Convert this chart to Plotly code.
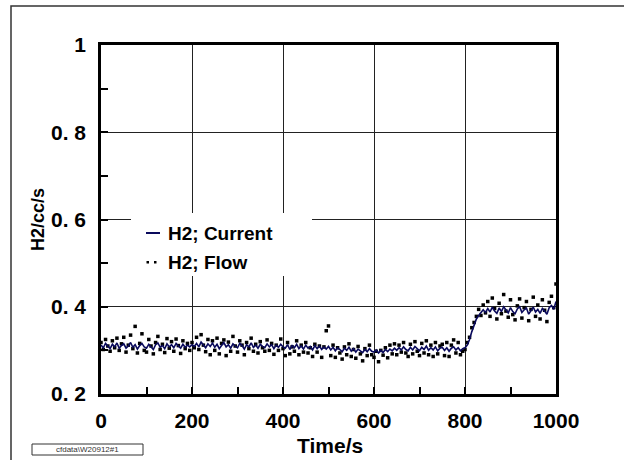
import plotly.graph_objects as go

# ---- data ----
time_s = list(range(0, 1001, 5))

h2_current = [
    0.312, 0.306, 0.316, 0.309, 0.304, 0.314, 0.308, 0.317, 0.305, 0.311,
    0.315, 0.305, 0.310, 0.318, 0.307, 0.313, 0.303, 0.311, 0.316, 0.308,
    0.305, 0.314, 0.309, 0.302, 0.313, 0.317, 0.307, 0.311, 0.304, 0.315,
    0.308, 0.313, 0.306, 0.316, 0.310, 0.305, 0.314, 0.307, 0.312, 0.308,
    0.313, 0.309, 0.316, 0.308, 0.319, 0.311, 0.306, 0.315, 0.309, 0.317,
    0.307, 0.314, 0.304, 0.311, 0.318, 0.308, 0.313, 0.305, 0.315, 0.310,
    0.306, 0.316, 0.311, 0.303, 0.313, 0.308, 0.317, 0.307, 0.312, 0.305,
    0.314, 0.309, 0.306, 0.315, 0.308, 0.313, 0.304, 0.312, 0.307, 0.314,
    0.308, 0.305, 0.313, 0.302, 0.311, 0.306, 0.314, 0.304, 0.310, 0.303,
    0.312, 0.305, 0.309, 0.301, 0.311, 0.304, 0.310, 0.302, 0.308, 0.303,
    0.309, 0.301, 0.307, 0.299, 0.306, 0.302, 0.297, 0.305, 0.300, 0.307,
    0.298, 0.304, 0.296, 0.303, 0.299, 0.295, 0.302, 0.297, 0.304, 0.298,
    0.296, 0.301, 0.294, 0.300, 0.295, 0.302, 0.297, 0.303, 0.299, 0.305,
    0.300, 0.306, 0.301, 0.308, 0.302, 0.299, 0.307, 0.301, 0.309, 0.303,
    0.299, 0.307, 0.302, 0.310, 0.300, 0.306, 0.301, 0.308, 0.299, 0.305,
    0.307, 0.300, 0.306, 0.298, 0.305, 0.308, 0.301, 0.306, 0.299, 0.304,
    0.306, 0.312, 0.325, 0.343, 0.360, 0.372, 0.380, 0.386, 0.393, 0.387,
    0.396, 0.388, 0.399, 0.390, 0.385, 0.397, 0.389, 0.400, 0.392, 0.386,
    0.398, 0.389, 0.384, 0.395, 0.400, 0.387, 0.393, 0.397, 0.383, 0.392,
    0.399, 0.388, 0.394, 0.385, 0.396, 0.390, 0.383, 0.398, 0.403, 0.394,
    0.412,
]

h2_flow = [
    0.318, 0.302, 0.325, 0.310, 0.298, 0.322, 0.306, 0.328, 0.300, 0.315,
    0.330, 0.296, 0.312, 0.335, 0.304, 0.355, 0.294, 0.316, 0.338, 0.300,
    0.296, 0.325, 0.310, 0.292, 0.318, 0.332, 0.302, 0.314, 0.295, 0.327,
    0.305, 0.320, 0.298, 0.326, 0.311, 0.293, 0.322, 0.304, 0.316, 0.300,
    0.318, 0.306, 0.330, 0.302, 0.336, 0.312, 0.297, 0.325, 0.290, 0.322,
    0.300, 0.328, 0.292, 0.316, 0.324, 0.288, 0.319, 0.298, 0.332, 0.310,
    0.296, 0.322, 0.312, 0.290, 0.318, 0.304, 0.328, 0.298, 0.314, 0.294,
    0.320, 0.306, 0.298, 0.324, 0.300, 0.316, 0.291, 0.312, 0.300, 0.326,
    0.304, 0.288, 0.318, 0.292, 0.308, 0.298, 0.322, 0.290, 0.312, 0.296,
    0.318, 0.294, 0.306, 0.286, 0.314, 0.296, 0.310, 0.284, 0.308, 0.345,
    0.356, 0.288, 0.312, 0.284, 0.306, 0.294, 0.280, 0.308, 0.290, 0.315,
    0.286, 0.302, 0.282, 0.309, 0.292, 0.276, 0.304, 0.288, 0.312, 0.290,
    0.284, 0.298, 0.274, 0.300, 0.289, 0.306, 0.283, 0.312, 0.292, 0.315,
    0.290, 0.312, 0.296, 0.318, 0.294, 0.286, 0.314, 0.292, 0.320, 0.298,
    0.288, 0.316, 0.294, 0.322, 0.290, 0.312, 0.286, 0.318, 0.292, 0.310,
    0.314, 0.288, 0.318, 0.286, 0.312, 0.324, 0.294, 0.318, 0.290, 0.298,
    0.302, 0.318, 0.330, 0.352, 0.364, 0.378, 0.394, 0.380, 0.404, 0.386,
    0.412, 0.378, 0.420, 0.396, 0.372, 0.408, 0.384, 0.428, 0.390, 0.376,
    0.416, 0.382, 0.370, 0.402, 0.418, 0.374, 0.398, 0.412, 0.368, 0.394,
    0.422, 0.378, 0.404, 0.372, 0.416, 0.392, 0.366, 0.410, 0.424, 0.398,
    0.452,
]

y_tickvals = [0.2, 0.4, 0.6, 0.8, 1.0]
y_ticktext = ["0. 2", "0. 4", "0. 6", "0. 8", "1"]
x_tickvals = [0, 200, 400, 600, 800, 1000]
x_ticktext = ["0", "200", "400", "600", "800", "1000"]

series_names = ["H2; Current", "H2; Flow"]

FONT = "Liberation Sans"
NAVY = "#0a0a5c"

# plot area in pixels
W, H = 624, 460
L, R, T, B = 101, 556, 45, 394


def px(x):
    return (x - L) / (R - L)


def py(y):
    return (B - y) / (B - T)


fig = go.Figure()
fig.add_trace(go.Scatter(
    x=time_s, y=h2_flow, mode="markers", name=series_names[1],
    marker=dict(symbol="square", size=3.5, color="black", line=dict(width=0)),
    showlegend=False,
))
fig.add_trace(go.Scatter(
    x=time_s, y=h2_current, mode="lines", name=series_names[0],
    line=dict(color=NAVY, width=1.6),
    showlegend=False,
))

axis_common = dict(
    showline=True, linewidth=2.5, linecolor="black", mirror=True,
    showgrid=True, gridcolor="#222222", gridwidth=1,
    ticks="inside", ticklen=7, tickwidth=1.5, tickcolor="black",
    zeroline=False,
    tickfont=dict(family=FONT, size=21, color="black", weight="bold"),
)

fig.update_xaxes(
    range=[0, 1000], tickvals=x_tickvals, ticktext=x_ticktext,
    minor=dict(ticks="inside", ticklen=7, tickwidth=1.5, tickcolor="black",
               tickvals=[100, 300, 500, 700, 900], showgrid=False),
    ticklabelstandoff=6,
    **axis_common,
)
fig.update_yaxes(
    range=[0.2, 1.0], tickvals=y_tickvals, ticktext=y_ticktext,
    minor=dict(ticks="inside", ticklen=7, tickwidth=1.5, tickcolor="black",
               tickvals=[0.3, 0.5, 0.7, 0.9], showgrid=False),
    ticklabelstandoff=8,
    **axis_common,
)

shapes = [
    # outer frame
    dict(type="rect", xref="paper", yref="paper", x0=px(11), x1=px(640),
         y0=py(480), y1=py(6), line=dict(color="#333333", width=1.5),
         layer="below"),
    # legend background
    dict(type="rect", xref="paper", yref="paper", x0=px(131), x1=px(312),
         y0=py(276), y1=py(213), fillcolor="white", line=dict(width=0),
         layer="above"),
    # legend symbol: current
    dict(type="line", xref="paper", yref="paper", x0=px(146), x1=px(160),
         y0=py(233), y1=py(233), line=dict(color=NAVY, width=2),
         layer="above"),
    # legend symbol: flow (two dots)
    dict(type="rect", xref="paper", yref="paper", x0=px(146.5), x1=px(149),
         y0=py(263.5), y1=py(261), fillcolor="black", line=dict(width=0),
         layer="above"),
    dict(type="rect", xref="paper", yref="paper", x0=px(154), x1=px(156.5),
         y0=py(263.5), y1=py(261), fillcolor="black", line=dict(width=0),
         layer="above"),
    # small label box bottom-left
    dict(type="rect", xref="paper", yref="paper", x0=px(32), x1=px(143),
         y0=py(455), y1=py(444), line=dict(color="#333333", width=1),
         layer="above"),
]

annotations = [
    dict(text=series_names[0], xref="paper", yref="paper", x=px(166), y=py(233),
         xanchor="left", yanchor="middle", showarrow=False,
         font=dict(family=FONT, size=19, color="black", weight="bold")),
    dict(text=series_names[1], xref="paper", yref="paper", x=px(166), y=py(262),
         xanchor="left", yanchor="middle", showarrow=False,
         font=dict(family=FONT, size=19, color="black", weight="bold")),
    dict(text="Time/s", xref="paper", yref="paper", x=px(330), y=py(445),
         xanchor="center", yanchor="middle", showarrow=False,
         font=dict(family=FONT, size=21, color="black", weight="bold")),
    dict(text="H2/cc/s", xref="paper", yref="paper", x=px(38), y=py(220),
         xanchor="center", yanchor="middle", showarrow=False, textangle=-90,
         font=dict(family=FONT, size=18, color="black", weight="bold")),
    dict(text="cfdata\\W20912#1", xref="paper", yref="paper", x=px(87), y=py(449.5),
         xanchor="center", yanchor="middle", showarrow=False,
         font=dict(family=FONT, size=8, color="#333333")),
]

fig.update_layout(
    width=W, height=H,
    margin=dict(l=L, r=W - R, t=T, b=H - B, pad=0),
    paper_bgcolor="white", plot_bgcolor="white",
    showlegend=False,
    shapes=shapes, annotations=annotations,
)

fig.write_html("out.html")
